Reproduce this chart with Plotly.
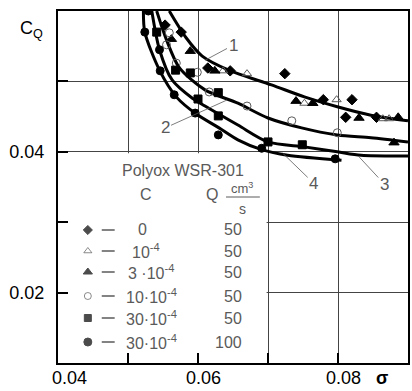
import plotly.graph_objects as go

# ---------------- data ----------------
# curves (solid thick lines)
curve1_x = [0.0559, 0.0583, 0.0606, 0.0644, 0.0705, 0.0752, 0.0799, 0.0847, 0.0900]
curve1_y = [0.0600, 0.0562, 0.0536, 0.0516, 0.0495, 0.0478, 0.0464, 0.0452, 0.0444]
curve2_x = [0.0541, 0.0555, 0.0573, 0.0610, 0.0657, 0.0700, 0.0748, 0.0799, 0.0847, 0.0900]
curve2_y = [0.0600, 0.0559, 0.0520, 0.0488, 0.0469, 0.0448, 0.0434, 0.0424, 0.0420, 0.0414]
curve3_x = [0.0534, 0.0545, 0.0563, 0.0592, 0.0610, 0.0657, 0.0700, 0.0752, 0.0799, 0.0833, 0.0900]
curve3_y = [0.0600, 0.0545, 0.0502, 0.0476, 0.0465, 0.0438, 0.0414, 0.0407, 0.0400, 0.0395, 0.0394]
curve4_x = [0.0522, 0.0524, 0.0545, 0.0569, 0.0597, 0.0630, 0.0657, 0.0691, 0.0728, 0.0805]
curve4_y = [0.0600, 0.0570, 0.0516, 0.0478, 0.0454, 0.0434, 0.0417, 0.0403, 0.0395, 0.0388]

# measured points
c0_x = [0.0553, 0.0576, 0.0614, 0.0646, 0.0724, 0.0779, 0.0820, 0.0811, 0.0855]
c0_y = [0.0580, 0.0570, 0.0519, 0.0515, 0.0511, 0.0474, 0.0474, 0.0449, 0.0449]
c1_x = [0.0636, 0.0670, 0.0752, 0.0798, 0.0864, 0.0873]
c1_y = [0.0515, 0.0511, 0.0469, 0.0474, 0.0447, 0.0447]
c3_x = [0.0562, 0.0589, 0.0624, 0.0740, 0.0764, 0.0830, 0.0886, 0.0880]
c3_y = [0.0560, 0.0543, 0.0515, 0.0472, 0.0469, 0.0448, 0.0449, 0.0413]
c10_x = [0.0559, 0.0555, 0.0569, 0.0599, 0.0616, 0.0670, 0.0734, 0.0799]
c10_y = [0.0569, 0.0552, 0.0526, 0.0513, 0.0485, 0.0465, 0.0444, 0.0427]
c30_x = [0.0541, 0.0568, 0.0589, 0.0600, 0.0629, 0.0629, 0.0700, 0.0749]
c30_y = [0.0570, 0.0516, 0.0512, 0.0475, 0.0484, 0.0451, 0.0414, 0.0410]
c30q_x = [0.0529, 0.0524, 0.0545, 0.0546, 0.0566, 0.0596, 0.0629, 0.0691, 0.0796]
c30q_y = [0.0600, 0.0570, 0.0545, 0.0515, 0.0481, 0.0455, 0.0424, 0.0405, 0.0390]

# legend table
legend_C = ["0", "10<sup>-4</sup>", "3 ·10<sup>-4</sup>", "10·10<sup>-4</sup>",
            "30·10<sup>-4</sup>", "30·10<sup>-4</sup>"]
legend_Q = ["50", "50", "50", "50", "50", "100"]

x_tickvals = [0.04, 0.06, 0.08]
x_ticktext = ["0.04", "0.06", "0.08"]
y_tickvals = [0.02, 0.04]
y_ticktext = ["0.02", "0.04"]

# ---------------- layout helpers ----------------
W, H = 412, 391
L, R, T, B = 58, 410, 11, 363
FONT = "Liberation Sans, Arial, sans-serif"
GREY = "#5a5a5a"


def px(x):
    return (x - L) / (R - L)


def py(y):
    return (B - y) / (B - T)


def label(xp, yp, text, size=16, color=GREY, xanchor="center"):
    return dict(x=px(xp), y=py(yp), xref="paper", yref="paper", text=text,
                showarrow=False, xanchor=xanchor, yanchor="middle",
                font=dict(family=FONT, size=size, color=color))


fig = go.Figure()

curve_style = dict(color="black", width=3, shape="spline", smoothing=0.8)
for cx, cy in [(curve1_x, curve1_y), (curve2_x, curve2_y), (curve3_x, curve3_y), (curve4_x, curve4_y)]:
    fig.add_trace(go.Scatter(x=cx, y=cy, mode="lines", line=curve_style,
                             showlegend=False, hoverinfo="skip"))

series = [
    (c0_x, c0_y, "diamond", "black", 8),
    (c1_x, c1_y, "triangle-up-open", GREY, 8),
    (c3_x, c3_y, "triangle-up", "black", 9),
    (c10_x, c10_y, "circle-open", GREY, 8),
    (c30_x, c30_y, "square", "black", 8),
    (c30q_x, c30q_y, "circle", "black", 8),
]
for sx, sy, sym, col, sz in series:
    fig.add_trace(go.Scatter(x=sx, y=sy, mode="markers",
                             marker=dict(symbol=sym, color=col, size=sz,
                                         line=dict(color=col, width=1)),
                             showlegend=False, hoverinfo="skip"))

# legend markers on an overlay pixel axis
rows_y = [230, 251, 272, 296, 318, 342]
fig.add_trace(go.Scatter(
    x=[88] * 6, y=rows_y, mode="markers", xaxis="x2", yaxis="y2",
    marker=dict(symbol=[s[2] for s in series], color=[s[3] for s in series],
                size=[7, 7, 8, 7, 7, 8],
                line=dict(color=[s[3] for s in series], width=1)),
    showlegend=False, hoverinfo="skip"))

shapes = []
# white box hiding grid in lower-left (legend area)
shapes.append(dict(type="rect", xref="x", yref="y", x0=0.0401, x1=0.0698, y0=0.0102, y1=0.0398,
                   fillcolor="white", line=dict(width=0), layer="between"))
ann = []
C_centers = [143, 146, 152, 152, 152, 152]
for i, ry in enumerate(rows_y):
    shapes.append(dict(type="line", xref="paper", yref="paper",
                       x0=px(102), x1=px(115), y0=py(ry), y1=py(ry),
                       line=dict(color=GREY, width=1.5)))
    ann.append(label(C_centers[i], ry, legend_C[i]))
    ann.append(label(245, ry, legend_Q[i], xanchor="right"))

ann.append(label(184, 170, "Polyox WSR-301"))
ann.append(label(146, 194, "C"))
ann.append(label(213, 194, "Q"))
ann.append(label(243, 188, "cm<sup>3</sup>", size=13))
ann.append(label(244, 209, "s", size=14))
shapes.append(dict(type="line", xref="paper", yref="paper", x0=px(227), x1=px(261),
                   y0=py(197), y1=py(197), line=dict(color=GREY, width=1)))

# x tick labels (placed as in the original, slightly right of their ticks)
for txt, cxp in zip(x_ticktext, [70, 204, 345]):
    ann.append(label(cxp, 378, txt, size=18, color="black"))

# axis titles
ann.append(label(31, 29, "C<sub>Q</sub>", size=18, color="black"))
ann.append(label(384, 378, "<b>σ</b>", size=18, color="black"))

# curve labels with leader lines
for lab, xx, yy, axp, ayp in [("1", 0.0610, 0.0530, 28, -15),
                              ("2", 0.06415, 0.04736, -62, 28),
                              ("3", 0.0829, 0.0394, 26, 28),
                              ("4", 0.0721, 0.0398, 31, 30)]:
    ann.append(dict(x=xx, y=yy, xref="x", yref="y", text=lab, showarrow=True,
                    arrowhead=0, arrowwidth=0.8, arrowcolor=GREY, ax=axp, ay=ayp,
                    font=dict(family=FONT, size=17, color=GREY)))

minor = dict(dtick=0.01, tick0=0.0, ticks="inside", ticklen=10, tickwidth=1.5,
             tickcolor="black", showgrid=True, gridcolor="#444", gridwidth=1)

fig.update_layout(
    width=W, height=H,
    margin=dict(l=L, r=W - R, t=T, b=H - B, pad=0),
    paper_bgcolor="white", plot_bgcolor="white",
    shapes=shapes, annotations=ann,
    xaxis=dict(range=[0.04, 0.09], tickvals=x_tickvals, showticklabels=False,
               ticks="inside", ticklen=10, tickwidth=1.5, tickcolor="black",
               showgrid=True, gridcolor="#444", gridwidth=1, minor=minor,
               showline=True, linecolor="black", linewidth=2, mirror=True,
               zeroline=False),
    yaxis=dict(range=[0.01, 0.06], tickvals=y_tickvals, ticktext=y_ticktext,
               ticks="inside", ticklen=10, tickwidth=1.5, tickcolor="black",
               showgrid=True, gridcolor="#444", gridwidth=1, minor=minor,
               showline=True, linecolor="black", linewidth=2, mirror=True,
               zeroline=False, ticklabelstandoff=8,
               tickfont=dict(family=FONT, size=18, color="black")),
    xaxis2=dict(range=[L, R], overlaying="x", visible=False),
    yaxis2=dict(range=[B, T], overlaying="y", visible=False),
)

fig.write_html("out.html")
